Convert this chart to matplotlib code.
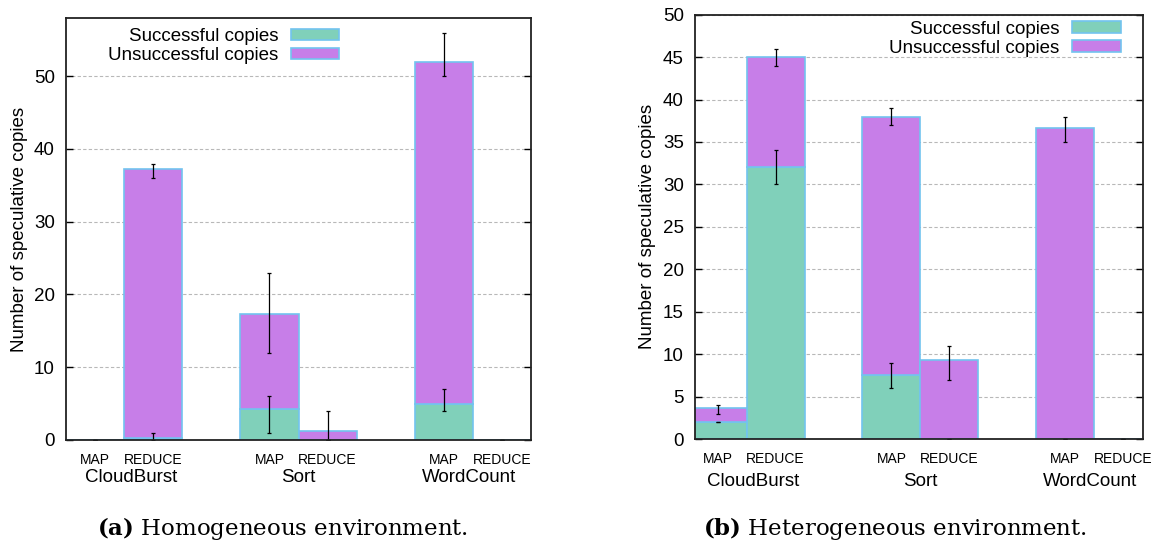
import matplotlib
matplotlib.use('Agg')
import matplotlib.pyplot as plt
from matplotlib.patches import Patch
import numpy as np

plt.rcParams['font.family'] = ['Liberation Sans', 'DejaVu Sans']
plt.rcParams['mathtext.fontset'] = 'dejavuserif'

# ---------------- data ----------------
jobs = ['CloudBurst', 'Sort', 'WordCount']
phases = ['MAP', 'REDUCE']
series = ['Successful copies', 'Unsuccessful copies']
captions = [r'$\mathbf{(a)}$ Homogeneous environment.',
            r'$\mathbf{(b)}$ Heterogeneous environment.']
ylabel = 'Number of speculative copies'

# bar order: CloudBurst MAP, CloudBurst REDUCE, Sort MAP, Sort REDUCE, WordCount MAP, WordCount REDUCE
homo_success = [0, 0.3, 4.3, 0, 5, 0]
homo_total = [0, 37.3, 17.3, 1.3, 52, 0]
homo_success_lo = [0, 0, 1, 0, 4, 0]
homo_success_hi = [0, 1, 6, 0, 7, 0]
homo_total_lo = [0, 36, 12, 0, 50, 0]
homo_total_hi = [0, 38, 23, 4, 56, 0]

het_success = [2, 32, 7.6, 0, 0, 0]
het_total = [3.7, 45, 38, 9.3, 36.7, 0]
het_success_lo = [2, 30, 6, 0, 0, 0]
het_success_hi = [2, 34, 9, 0, 0, 0]
het_total_lo = [3, 44, 37, 7, 35, 0]
het_total_hi = [4, 46, 39, 11, 38, 0]

# ---------------- style ----------------
C_SUCC = '#80d0ba'
C_UNSU = '#c77ee8'
C_EDGE = '#72c3ef'
FS = 13.5
GROUP_DX = [7, 0, -4]   # pixel nudges of the group labels

fig = plt.figure(figsize=(11.56, 5.45), dpi=100)
ax1 = fig.add_axes([66/1156, 105/545, 465/1156, 422/545])
ax2 = fig.add_axes([695/1156, 106/545, 448/1156, 424.3/545])

xpos = np.array([0, 1, 3, 4, 6, 7])


def draw(ax, succ, total, s_lo, s_hi, t_lo, t_hi, ylim, yticks, xlim,
         leg_anchor, group_off):
    succ = np.array(succ, float)
    total = np.array(total, float)
    unsucc = total - succ
    ax.set_axisbelow(True)
    ax.grid(axis='y', color='#b8b8b8', linestyle=(0, (3, 2)), linewidth=0.8)
    ax.bar(xpos, succ, width=1.0, color=C_SUCC, edgecolor=C_EDGE,
           linewidth=1.2, zorder=2)
    ax.bar(xpos, unsucc, bottom=succ, width=1.0, color=C_UNSU,
           edgecolor=C_EDGE, linewidth=1.2, zorder=2)
    s_err = [succ - np.array(s_lo), np.array(s_hi) - succ]
    t_err = [total - np.array(t_lo), np.array(t_hi) - total]
    ax.errorbar(xpos, succ, yerr=s_err, fmt='none', ecolor='black',
                elinewidth=0.9, capsize=1.6, capthick=0.9, zorder=4)
    ax.errorbar(xpos, total, yerr=t_err, fmt='none', ecolor='black',
                elinewidth=0.9, capsize=1.6, capthick=0.9, zorder=4)
    ax.set_xlim(*xlim)
    ax.set_ylim(*ylim)
    ax.set_yticks(yticks)
    ax.set_xticks(xpos)
    ax.set_xticklabels(phases * 3, fontsize=10)
    ax.tick_params(axis='x', length=0, pad=9.5)
    ax.tick_params(axis='y', direction='in', left=True, right=True,
                   length=5, width=1.0, labelsize=FS, pad=8)
    for sp in ax.spines.values():
        sp.set_linewidth(1.3)
        sp.set_color('#222222')
        sp.set_zorder(5)
    for i, job in enumerate(jobs):
        ax.annotate(job, xy=((xpos[2*i] + xpos[2*i+1]) / 2, 0),
                    xycoords=('data', 'axes fraction'),
                    xytext=(GROUP_DX[i], -group_off),
                    textcoords='offset pixels',
                    ha='center', va='center', fontsize=FS)
    ax.set_ylabel(ylabel, fontsize=FS)
    handles = [Patch(facecolor=C_SUCC, edgecolor=C_EDGE, linewidth=1.2),
               Patch(facecolor=C_UNSU, edgecolor=C_EDGE, linewidth=1.2)]
    ax.legend(handles, series, loc='upper right', bbox_to_anchor=leg_anchor,
              frameon=False, fontsize=FS, markerfirst=False,
              handlelength=2.6, handleheight=0.55, handletextpad=0.65,
              labelspacing=0.1, borderpad=0, borderaxespad=0)


draw(ax1, homo_success, homo_total, homo_success_lo, homo_success_hi,
     homo_total_lo, homo_total_hi, (0, 58), np.arange(0, 51, 10),
     (-0.5, 7.5), (0.588, 0.976), 37)
draw(ax2, het_success, het_total, het_success_lo, het_success_hi,
     het_total_lo, het_total_hi, (0, 50), np.arange(0, 51, 5),
     (-0.39, 7.34), (0.950, 0.986), 43)

ax1.yaxis.set_label_coords(-0.081, 0.5)
ax2.yaxis.set_label_coords(-0.086, 0.5)

fig.text(282.7/1156, 1 - 529/545, captions[0], ha='center', va='center',
         fontsize=16.5, family='DejaVu Serif')
fig.text(895.3/1156, 1 - 529/545, captions[1], ha='center', va='center',
         fontsize=16.5, family='DejaVu Serif')

fig.savefig('out.png', dpi=100)
